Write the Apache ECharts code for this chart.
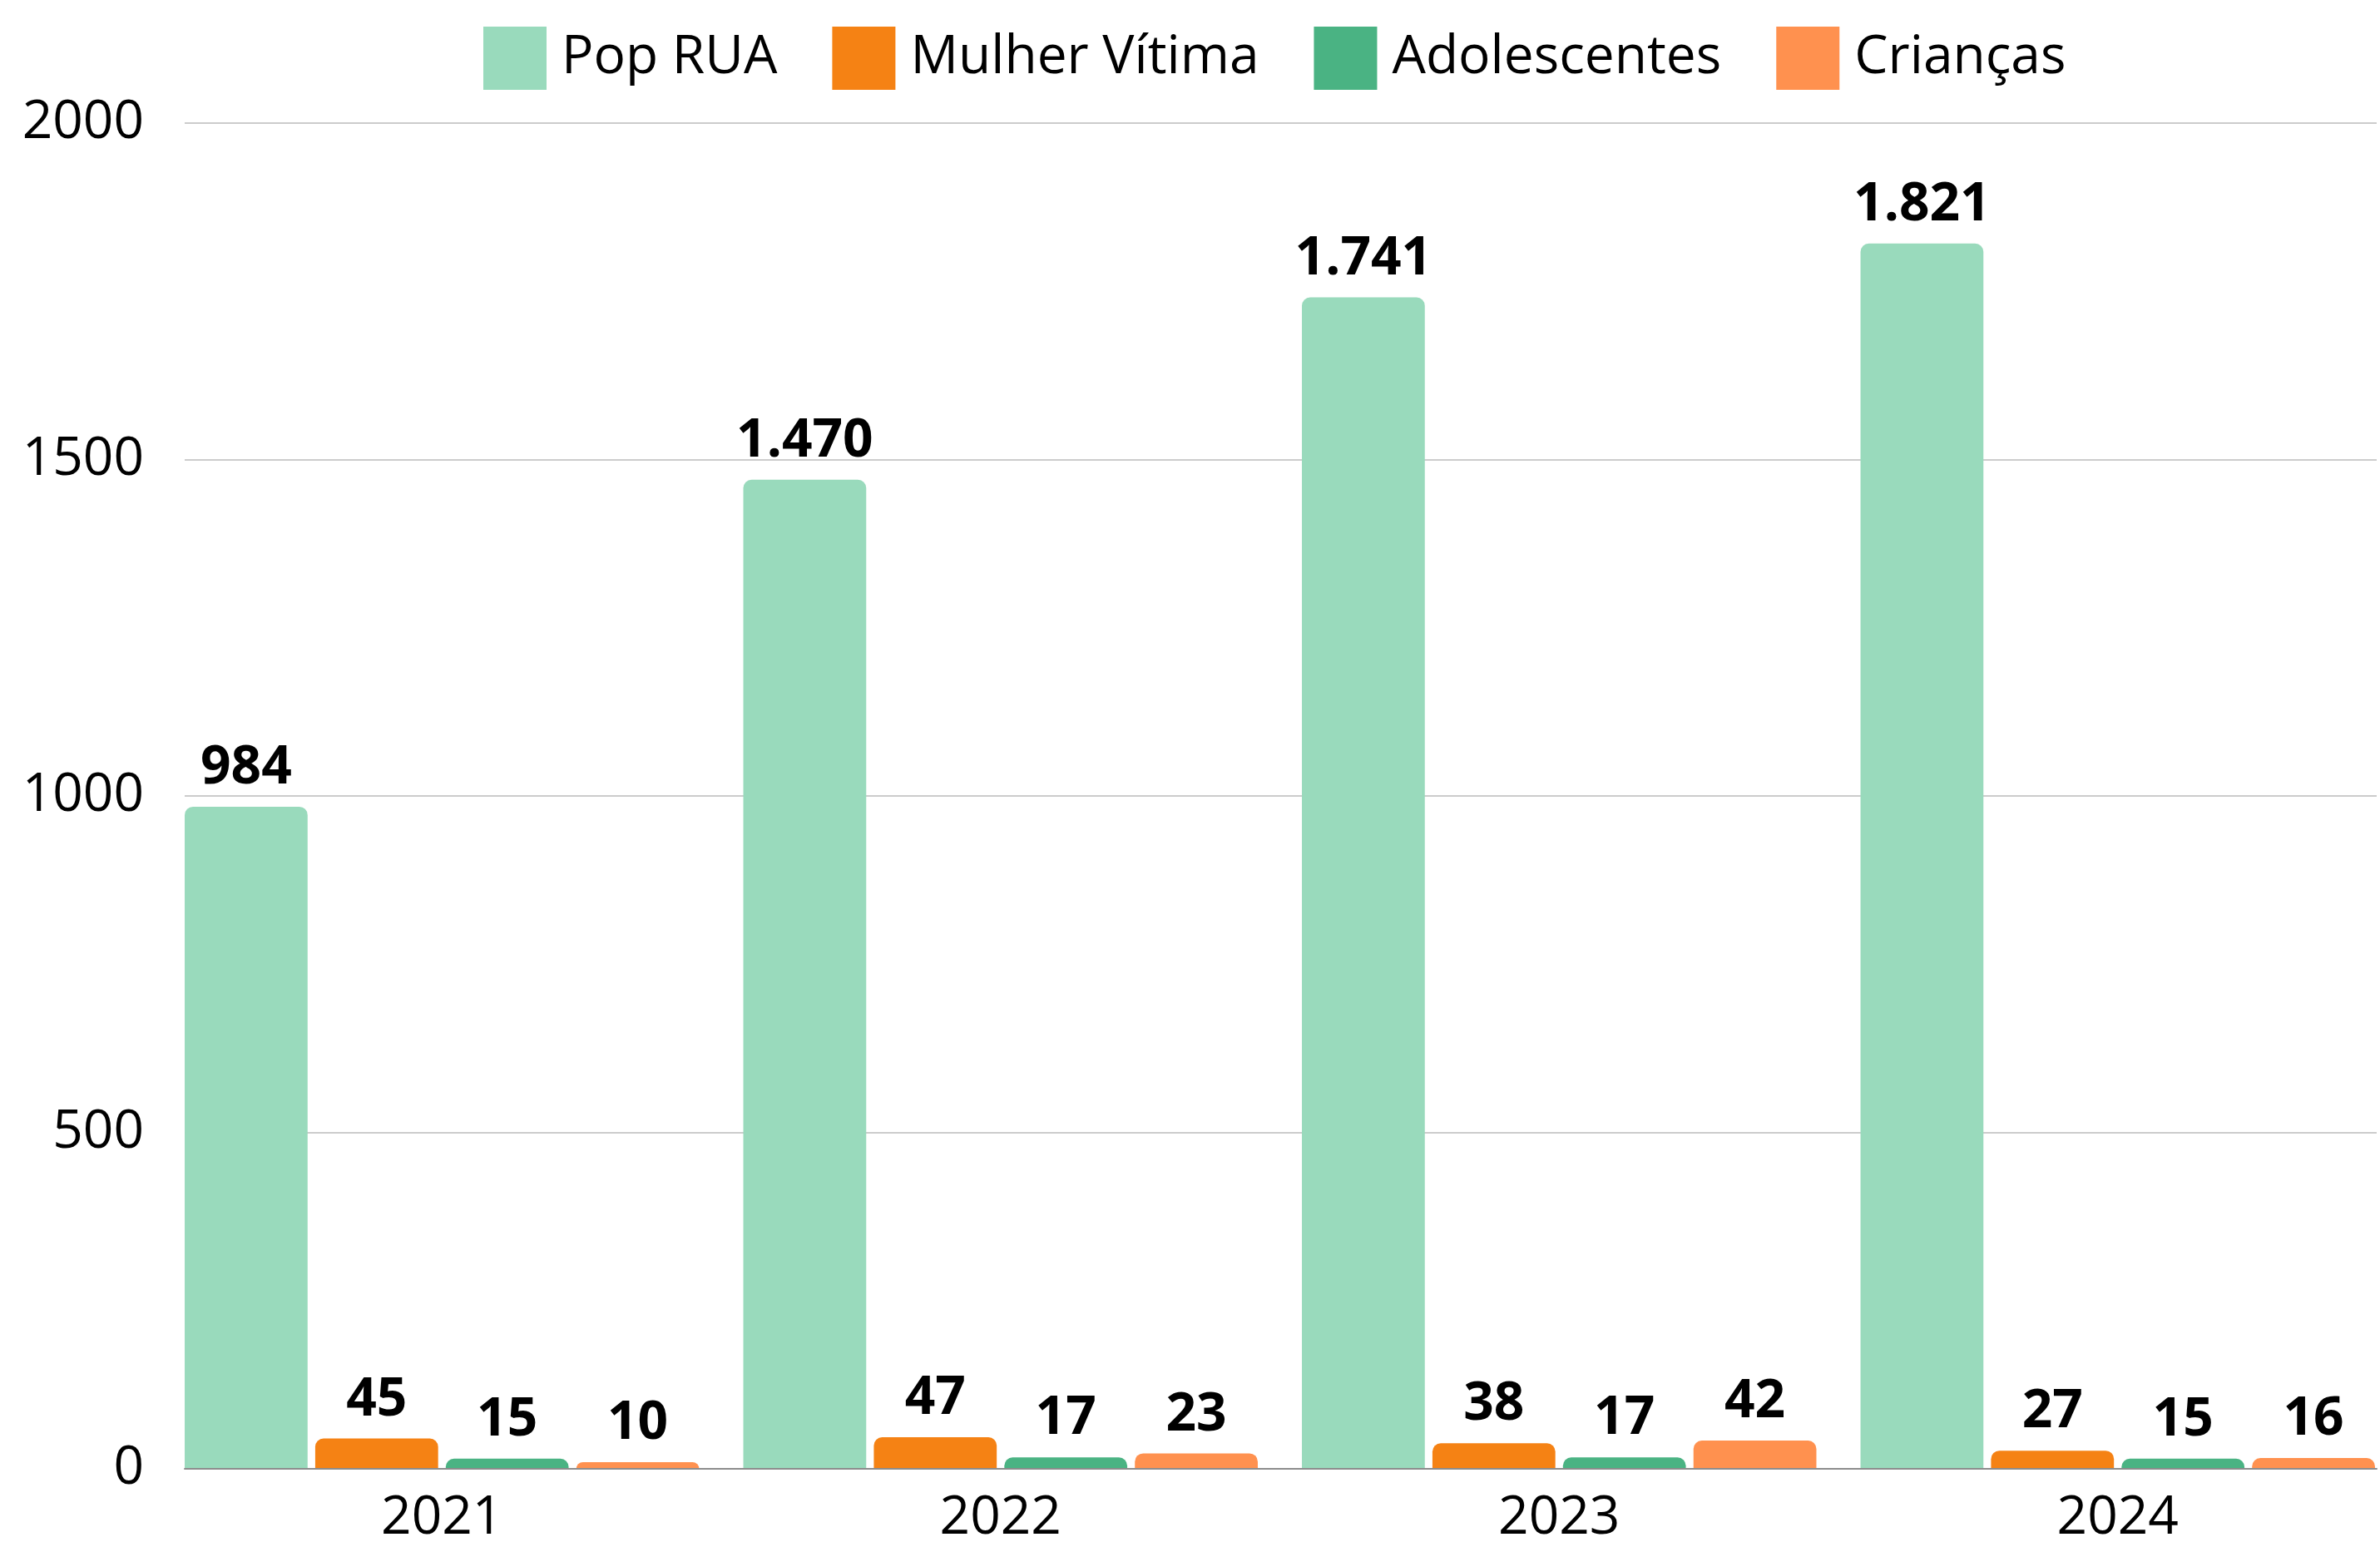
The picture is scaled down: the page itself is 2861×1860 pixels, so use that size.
<!DOCTYPE html>
<html>
<head>
<meta charset="utf-8">
<script src="https://cdn.jsdelivr.net/npm/echarts@6/dist/echarts.min.js"></script>
<style>
html,body{margin:0;padding:0;background:#fff;}
#chart{width:2861px;height:1860px;}
</style>
</head>
<body>
<div id="chart"></div>
<script>
var categories = ['2021', '2022', '2023', '2024'];
var seriesNames = ['Pop RUA', 'Mulher Vítima', 'Adolescentes', 'Crianças'];
var popRua = [984, 1470, 1741, 1821];
var mulherVitima = [45, 47, 38, 27];
var adolescentes = [15, 17, 17, 15];
var criancas = [10, 23, 42, 16];
var yTicks = [0, 500, 1000, 1500, 2000];

var colors = ['#99DABC', '#F58214', '#4AB383', '#FF914F'];
var FONT = 'Open Sans';

function fmt(v) {
  return String(v).replace(/\B(?=(\d{3})+(?!\d))/g, '.');
}

var chart = echarts.init(document.getElementById('chart'), null, {renderer: 'canvas'});

var values = [popRua, mulherVitima, adolescentes, criancas];
var series = values.map(function (arr, i) {
  return {
    name: seriesNames[i],
    type: 'bar',
    xAxisIndex: 1,
    yAxisIndex: 1,
    data: arr,
    barGap: '6.2%',
    barCategoryGap: '7.9%',
    itemStyle: {color: colors[i], borderRadius: [10, 10, 0, 0]},
    label: {
      show: true,
      position: 'top',
      distance: 14,
      formatter: function (p) { return fmt(p.value); },
      fontFamily: FONT,
      fontWeight: 'bold',
      fontSize: 64,
      color: '#000'
    }
  };
});

var option = {
  backgroundColor: '#fff',
  animation: false,
  color: colors,
  legend: {
    data: seriesNames,
    left: 576,
    top: 27,
    itemWidth: 76,
    itemHeight: 76,
    itemGap: 66,
    icon: 'rect',
    textStyle: {fontFamily: FONT, fontSize: 64, color: '#000', padding: [0, 0, 0, 13]}
  },
  grid: [
    {left: 222, right: 4, top: 148, bottom: 94, outerBoundsMode: 'none', containLabel: false},
    {left: 195.5, width: 2686, top: 148, bottom: 94, outerBoundsMode: 'none', containLabel: false}
  ],
  xAxis: [
    {
      type: 'category', gridIndex: 0, data: categories,
      axisTick: {show: false},
      axisLabel: {show: false},
      axisLine: {show: true, lineStyle: {color: '#8c8c8c', width: 2}},
      z: 5
    },
    {
      type: 'category', gridIndex: 1, data: categories,
      axisTick: {show: false},
      axisLine: {show: false},
      axisLabel: {fontFamily: FONT, fontSize: 64, color: '#000', margin: 28}
    }
  ],
  yAxis: [
    {
      type: 'value', gridIndex: 0, min: yTicks[0], max: yTicks[yTicks.length - 1], interval: 500,
      axisLine: {show: false}, axisTick: {show: false},
      axisLabel: {fontFamily: FONT, fontSize: 64, color: '#000', margin: 49,
        formatter: function (v) { return String(v); }},
      splitLine: {lineStyle: {color: '#cccccc', width: 2}}
    },
    {
      type: 'value', gridIndex: 1, min: yTicks[0], max: yTicks[yTicks.length - 1], interval: 500,
      show: false, splitLine: {show: false}
    }
  ],
  series: series
};

chart.setOption(option);
</script>
</body>
</html>
